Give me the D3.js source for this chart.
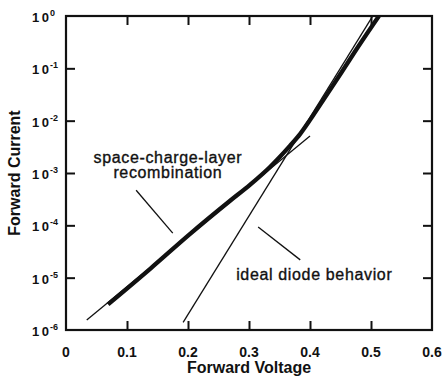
<!DOCTYPE html>
<html>
<head>
<meta charset="utf-8">
<script src="https://cdn.jsdelivr.net/npm/d3@7"></script>
<style>
  html, body { margin: 0; padding: 0; background: #fff; }
  svg { display: block; }
  text { font-family: "Liberation Sans", Arial, Helvetica, sans-serif; fill: #111; }
</style>
</head>
<body>
<svg id="chart" width="445" height="384"></svg>
<script>
// Measured forward I-V characteristic of a diode (thick curve)
const measuredVoltage = [0.069, 0.138, 0.203, 0.269, 0.302, 0.334, 0.350, 0.367, 0.384, 0.401, 0.422, 0.448, 0.480, 0.513];
const measuredCurrent = [3.1e-6, 1.48e-5, 6.8e-5, 2.95e-4, 6.0e-4, 1.29e-3, 2.0e-3, 3.3e-3, 5.6e-3, 1.07e-2, 2.5e-2, 7.2e-2, 0.27, 1.0];

// Asymptotes: space-charge-layer recombination (n ~ 2) and ideal diode (n ~ 1)
const scrVoltage = [0.034, 0.400];
const scrCurrent = [1.55e-6, 5.1e-3];
const idealVoltage = [0.192, 0.502];
const idealCurrent = [1.4e-6, 0.96];

// Axis ticks
const xTicks = [0, 0.1, 0.2, 0.3, 0.4, 0.5, 0.6];
const xTickLabels = ["0", "0.1", "0.2", "0.3", "0.4", "0.5", "0.6"];
const yTicks = [1e-6, 1e-5, 1e-4, 1e-3, 1e-2, 1e-1, 1];
const yExponents = ["-6", "-5", "-4", "-3", "-2", "-1", "0"];

// Annotation labels and their leader lines (in data units)
const annoText = ["space-charge-layer", "recombination", "ideal diode behavior"];
const annoV = [0.167, 0.167, 0.407];
const annoI = [10 ** -2.80, 10 ** -3.105, 10 ** -5.04];
const leaderV = [[0.115, 0.175], [0.315, 0.384]];
const leaderI = [[10 ** -3.33, 10 ** -4.15], [10 ** -4.03, 10 ** -4.66]];

const svg = d3.select("#chart");
const pLeft = 66, pRight = 432, pTop = 16, pBottom = 330;

const x = d3.scaleLinear().domain([0, 0.6]).range([pLeft, pRight]);
const y = d3.scaleLog().domain([1e-6, 1]).range([pBottom, pTop]);

const plot = svg.append("g");
plot.append("clipPath").attr("id", "clip")
  .append("rect").attr("x", pLeft).attr("y", pTop)
  .attr("width", pRight - pLeft).attr("height", pBottom - pTop);

const line = d3.line().x(d => x(d[0])).y(d => y(d[1]));
const zip = (a, b) => a.map((v, i) => [v, b[i]]);

const curves = plot.append("g").attr("clip-path", "url(#clip)");
curves.append("path").datum(zip(scrVoltage, scrCurrent))
  .attr("d", line).attr("fill", "none").attr("stroke", "#111").attr("stroke-width", 1.3);
curves.append("path").datum(zip(idealVoltage, idealCurrent))
  .attr("d", line).attr("fill", "none").attr("stroke", "#111").attr("stroke-width", 1.3);
curves.append("path").datum(zip(measuredVoltage, measuredCurrent))
  .attr("d", d3.line().x(d => x(d[0])).y(d => y(d[1])).curve(d3.curveMonotoneX))
  .attr("fill", "none").attr("stroke", "#111")
  .attr("stroke-width", 4.3).attr("stroke-linecap", "butt");

// Leader lines
leaderV.forEach((v, i) => {
  plot.append("line")
    .attr("x1", x(v[0])).attr("y1", y(leaderI[i][0]))
    .attr("x2", x(v[1])).attr("y2", y(leaderI[i][1]))
    .attr("stroke", "#111").attr("stroke-width", 1.3);
});

// Annotation text
annoText.forEach((t, i) => {
  plot.append("text")
    .attr("x", x(annoV[i])).attr("y", y(annoI[i]))
    .attr("text-anchor", "middle")
    .style("font-size", "16px")
    .style("letter-spacing", "0.65px")
    .style("stroke", "#111").style("stroke-width", "0.35px")
    .text(t);
});

// Inward ticks on all four sides
const tick = 9;
svg.append("g").attr("transform", `translate(0,${pBottom})`)
  .call(d3.axisBottom(x).tickValues(xTicks.slice(1, -1)).tickSize(-tick).tickFormat(""));
svg.append("g").attr("transform", `translate(0,${pTop})`)
  .call(d3.axisTop(x).tickValues(xTicks.slice(1, -1)).tickSize(-tick).tickFormat(""));
svg.append("g").attr("transform", `translate(${pLeft},0)`)
  .call(d3.axisLeft(y).tickValues(yTicks.slice(1, -1)).tickSize(-tick).tickFormat(""));
svg.append("g").attr("transform", `translate(${pRight},0)`)
  .call(d3.axisRight(y).tickValues(yTicks.slice(1, -1)).tickSize(-tick).tickFormat(""));
svg.selectAll(".domain").remove();
svg.selectAll(".tick line").attr("stroke", "#111").attr("stroke-width", 2);

// Frame
svg.append("rect").attr("x", pLeft).attr("y", pTop)
  .attr("width", pRight - pLeft).attr("height", pBottom - pTop)
  .attr("fill", "none").attr("stroke", "#111").attr("stroke-width", 2.2);

// X tick labels
xTicks.forEach((v, i) => {
  svg.append("text")
    .attr("x", x(v)).attr("y", 357)
    .attr("text-anchor", "middle")
    .style("font-size", "14px").style("font-weight", "bold")
    .text(xTickLabels[i]);
});

// Y tick labels: 10 with superscript exponent
yTicks.forEach((v, i) => {
  const t = svg.append("text")
    .attr("x", 32).attr("y", y(v) + 6)
    .style("font-size", "13px").style("font-weight", "bold");
  t.append("tspan").style("letter-spacing", "2.5px").text("10");
  t.append("tspan").attr("dy", -6).attr("dx", -1.5).style("font-size", "9px").text(yExponents[i]);
});

// Axis titles
svg.append("text")
  .attr("x", (pLeft + pRight) / 2).attr("y", 373)
  .attr("text-anchor", "middle")
  .style("font-size", "16px").style("font-weight", "bold")
  .text("Forward Voltage");
svg.append("text")
  .attr("transform", `translate(20,${(pTop + pBottom) / 2}) rotate(-90)`)
  .attr("text-anchor", "middle")
  .style("font-size", "16px").style("font-weight", "bold")
  .text("Forward Current");
</script>
</body>
</html>
